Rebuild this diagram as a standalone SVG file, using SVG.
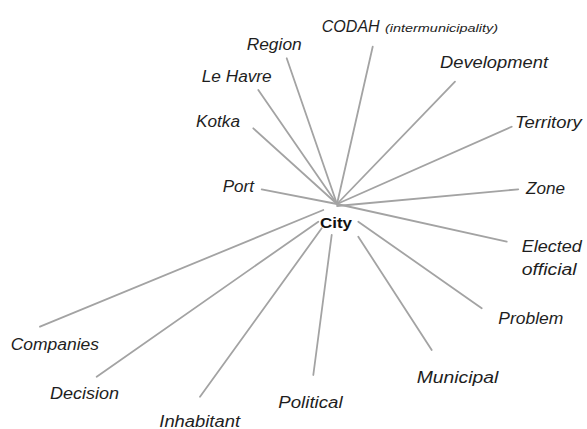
<svg xmlns="http://www.w3.org/2000/svg" width="587" height="429" viewBox="0 0 587 429">
<style>
.bg{fill:#ffffff}
.c line{stroke:#a3a3a3;stroke-width:1.8;stroke-linecap:round}
.lbl{font-family:"Liberation Sans","Open Sans",sans-serif;font-style:italic;font-size:16px;fill:#1e1e1e}
.small{font-size:11px}
.hub{font-family:"Liberation Sans","Open Sans",sans-serif;font-weight:bold;font-size:14px;fill:#111}
</style>
<rect class="bg" x="0" y="0" width="587" height="429"/>
<g id="connectors" class="c">
<line x1="337" y1="204" x2="286.7" y2="58.3"/>
<line x1="337" y1="204" x2="372.7" y2="46.7"/>
<line x1="337" y1="204" x2="258.3" y2="90"/>
<line x1="337" y1="204" x2="253.3" y2="128.3"/>
<line x1="337" y1="204" x2="455" y2="81.7"/>
<line x1="337" y1="204" x2="511.7" y2="126.7"/>
<line x1="337" y1="204" x2="261.7" y2="189.3"/>
<line x1="337" y1="206" x2="518.3" y2="189.3"/>
<line x1="337" y1="204" x2="506.7" y2="241.7"/>
<line x1="358.3" y1="221.7" x2="481.7" y2="308.3"/>
<line x1="358.3" y1="236.7" x2="431.7" y2="350"/>
<line x1="331.7" y1="235" x2="313.3" y2="375"/>
<line x1="321.7" y1="228.3" x2="200" y2="396.7"/>
<line x1="318.3" y1="221.7" x2="96.7" y2="376.7"/>
<line x1="323.3" y1="210" x2="40" y2="326.7"/>
</g>
<g id="city"><text class="hub" x="320" y="228" textLength="32" lengthAdjust="spacingAndGlyphs">City</text></g>
<g id="codah"><text class="lbl" x="321.7" y="31.7"><tspan textLength="58" lengthAdjust="spacingAndGlyphs">CODAH</tspan><tspan class="small" x="385" textLength="113" lengthAdjust="spacingAndGlyphs">(intermunicipality)</tspan></text></g>
<g id="region"><text class="lbl" x="246.7" y="50" textLength="55" lengthAdjust="spacingAndGlyphs">Region</text></g>
<g id="lehavre"><text class="lbl" x="201.7" y="81.7" textLength="70" lengthAdjust="spacingAndGlyphs">Le Havre</text></g>
<g id="kotka"><text class="lbl" x="196" y="127.3" textLength="44" lengthAdjust="spacingAndGlyphs">Kotka</text></g>
<g id="port"><text class="lbl" x="222.7" y="191.7" textLength="31.3" lengthAdjust="spacingAndGlyphs">Port</text></g>
<g id="development"><text class="lbl" x="440" y="68.3" textLength="108" lengthAdjust="spacingAndGlyphs">Development</text></g>
<g id="territory"><text class="lbl" x="515" y="128.3" textLength="66.7" lengthAdjust="spacingAndGlyphs">Territory</text></g>
<g id="zone"><text class="lbl" x="526" y="194" textLength="39" lengthAdjust="spacingAndGlyphs">Zone</text></g>
<g id="elected"><text class="lbl" x="521.7" y="252.3" textLength="60" lengthAdjust="spacingAndGlyphs">Elected</text><text class="lbl" x="521.7" y="275" textLength="55" lengthAdjust="spacingAndGlyphs">official</text></g>
<g id="problem"><text class="lbl" x="498.3" y="324" textLength="65" lengthAdjust="spacingAndGlyphs">Problem</text></g>
<g id="municipal"><text class="lbl" x="416.7" y="383.3" textLength="81.7" lengthAdjust="spacingAndGlyphs">Municipal</text></g>
<g id="political"><text class="lbl" x="278.3" y="408.3" textLength="64.3" lengthAdjust="spacingAndGlyphs">Political</text></g>
<g id="inhabitant"><text class="lbl" x="159.3" y="426.7" textLength="80.7" lengthAdjust="spacingAndGlyphs">Inhabitant</text></g>
<g id="decision"><text class="lbl" x="50" y="399" textLength="69" lengthAdjust="spacingAndGlyphs">Decision</text></g>
<g id="companies"><text class="lbl" x="10.7" y="350" textLength="88.3" lengthAdjust="spacingAndGlyphs">Companies</text></g>
</svg>
